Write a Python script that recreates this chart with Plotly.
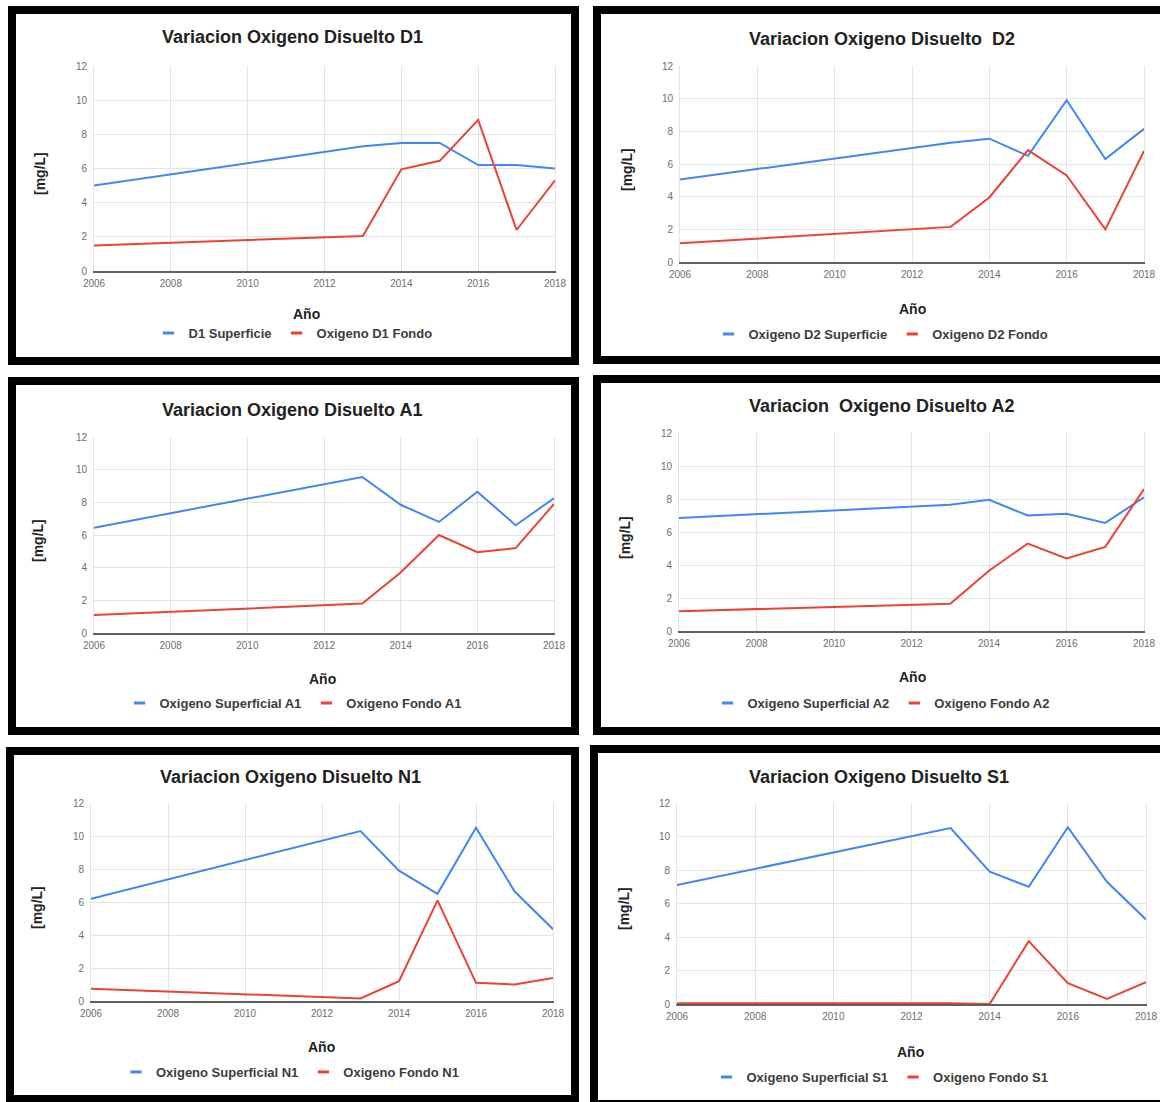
import plotly.graph_objects as go

# ---------------- data ----------------
years = [2006, 2013, 2014, 2015, 2016, 2017, 2018]
x_ticks = [2006, 2008, 2010, 2012, 2014, 2016, 2018]
y_ticks = [0, 2, 4, 6, 8, 10, 12]

d1_superficie = [5.0, 7.3, 7.5, 7.5, 6.2, 6.2, 6.0]
d1_fondo = [1.5, 2.05, 5.95, 6.45, 8.85, 2.4, 5.3]

d2_superficie = [5.05, 7.3, 7.55, 6.5, 9.9, 6.3, 8.15]
d2_fondo = [1.15, 2.15, 3.95, 6.85, 5.3, 2.0, 6.8]

a1_superficie = [6.45, 9.55, 7.85, 6.8, 8.65, 6.6, 8.25]
a1_fondo = [1.1, 1.8, 3.7, 6.0, 4.95, 5.2, 7.9]

a2_superficie = [6.85, 7.65, 7.95, 7.0, 7.1, 6.55, 8.1]
a2_fondo = [1.2, 1.65, 3.65, 5.3, 4.4, 5.1, 8.6]

n1_superficie = [6.2, 10.3, 7.9, 6.5, 10.5, 6.65, 4.35]
n1_fondo = [0.75, 0.15, 1.2, 6.1, 1.1, 1.0, 1.4]

s1_superficie = [7.1, 10.5, 7.9, 7.0, 10.55, 7.3, 5.05]
s1_fondo = [0.05, 0.05, 0.0, 3.75, 1.25, 0.3, 1.3]

titles = [
    "Variacion Oxigeno Disuelto D1",
    "Variacion Oxigeno Disuelto\u00a0 D2",
    "Variacion Oxigeno Disuelto A1",
    "Variacion\u00a0 Oxigeno Disuelto A2",
    "Variacion Oxigeno Disuelto N1",
    "Variacion Oxigeno Disuelto S1",
]
sup_names = ["D1 Superficie", "Oxigeno D2 Superficie", "Oxigeno Superficial A1",
             "Oxigeno Superficial A2", "Oxigeno Superficial N1", "Oxigeno Superficial S1"]
fondo_names = ["Oxigeno D1 Fondo", "Oxigeno D2 Fondo", "Oxigeno Fondo A1",
               "Oxigeno Fondo A2", "Oxigeno Fondo N1", "Oxigeno Fondo S1"]
sup_series = [d1_superficie, d2_superficie, a1_superficie, a2_superficie, n1_superficie, s1_superficie]
fondo_series = [d1_fondo, d2_fondo, a1_fondo, a2_fondo, n1_fondo, s1_fondo]
x_title = "Año"
y_title = "[mg/L]"

# ---------------- layout geometry (pixels) ----------------
W, H = 1160, 1102
BLUE = "#4285F4"
RED = "#EA4335"
FONT = "Liberation Sans, Arial, sans-serif"

geo = [
    dict(plot=(94, 555, 66, 271), title=(292, 37), xt=(306, 314), yt=(40, 174), leg=(293, 333), box=(12, 575, 10, 361)),
    dict(plot=(680, 1144, 66, 262), title=(882, 39), xt=(912, 309), yt=(627, 170), leg=(881, 334), box=(597, 1172, 10, 360)),
    dict(plot=(94, 554, 437, 633), title=(292, 410), xt=(323, 679), yt=(38, 541), leg=(293, 703), box=(12, 575, 381, 731)),
    dict(plot=(679, 1144, 433, 631), title=(881, 406), xt=(912, 677), yt=(625, 538), leg=(881, 703), box=(597, 1172, 379, 731)),
    dict(plot=(91, 553, 803, 1001), title=(291, 777), xt=(321, 1047), yt=(37, 908), leg=(290, 1072), box=(10, 575, 751, 1099)),
    dict(plot=(677, 1146, 803, 1004), title=(879, 777), xt=(910, 1052), yt=(624, 909), leg=(880, 1077), box=(594, 1172, 749, 1104)),
]

def fx(v):
    return v / W

def fy(v):
    return 1 - v / H

fig = go.Figure()
layout = dict(
    template="none",
    width=W, height=H, margin=dict(l=0, r=0, t=0, b=0, pad=0, autoexpand=False),
    paper_bgcolor="white", plot_bgcolor="white",
    font=dict(family=FONT, color="#222222"),
    showlegend=True,
)
annotations = []
shapes = []

for i in range(6):
    k = "" if i == 0 else str(i + 1)
    g = geo[i]
    l, r, t, b = g["plot"]
    xa, ya = "x" + k, "y" + k
    leg = "legend" + k

    fig.add_trace(go.Scatter(x=years, y=sup_series[i], mode="lines", name=sup_names[i],
                             line=dict(color=BLUE, width=2), xaxis=xa, yaxis=ya, showlegend=False,
                             hoverinfo="x+y+name"))
    fig.add_trace(go.Scatter(x=years, y=fondo_series[i], mode="lines", name=fondo_names[i],
                             line=dict(color=RED, width=2), xaxis=xa, yaxis=ya, showlegend=False,
                             hoverinfo="x+y+name"))
    for nm, col in ((sup_names[i], BLUE), (fondo_names[i], RED)):
        fig.add_trace(go.Scatter(x=[None], y=[None], mode="markers", name=nm,
                                 marker=dict(symbol="line-ew", size=8, line=dict(width=3, color=col)),
                                 xaxis=xa, yaxis=ya, legend=leg, showlegend=True))

    layout["xaxis" + k] = dict(
        domain=[fx(l), fx(r)], anchor=ya, range=[2006, 2018], automargin=False,
        tickvals=x_ticks, ticktext=[str(v) for v in x_ticks],
        showgrid=True, gridcolor="#e3e3e3", gridwidth=1,
        showline=True, linecolor="#5f5f5f", linewidth=1.5, mirror=False,
        zeroline=False, ticks="", ticklabelstandoff=2,
        tickfont=dict(size=10, color="#6e6e6e", family=FONT),
        fixedrange=True,
    )
    layout["yaxis" + k] = dict(
        domain=[fy(b), fy(t)], anchor=xa, range=[0, 12], automargin=False,
        tickvals=y_ticks, ticktext=[str(v) for v in y_ticks],
        showgrid=True, gridcolor="#e3e3e3", gridwidth=1,
        showline=True, linecolor="#e3e3e3", mirror=True,
        zeroline=False, ticks="", ticklabelstandoff=4,
        tickfont=dict(size=10, color="#6e6e6e", family=FONT),
        fixedrange=True,
    )
    layout[leg] = dict(
        x=fx(g["leg"][0]), y=fy(g["leg"][1]), xref="container", yref="container",
        xanchor="center", yanchor="middle",
        orientation="h", bgcolor="rgba(0,0,0,0)", borderwidth=0,
        font=dict(size=13, color="#3c3c3c", family=FONT, weight="bold"),
        itemclick=False, itemdoubleclick=False,
    )
    annotations.append(dict(text="<b>" + titles[i] + "</b>", x=fx(g["title"][0]), y=fy(g["title"][1]),
                            xref="paper", yref="paper", xanchor="center", yanchor="middle",
                            showarrow=False, font=dict(size=18, color="#222222", family=FONT)))
    annotations.append(dict(text="<b>" + x_title + "</b>", x=fx(g["xt"][0]), y=fy(g["xt"][1]),
                            xref="paper", yref="paper", xanchor="center", yanchor="middle",
                            showarrow=False, font=dict(size=14, color="#222222", family=FONT)))
    annotations.append(dict(text="<b>" + y_title + "</b>", x=fx(g["yt"][0]), y=fy(g["yt"][1]),
                            xref="paper", yref="paper", xanchor="center", yanchor="middle",
                            textangle=-90, showarrow=False, font=dict(size=14, color="#222222", family=FONT)))
    bx0, bx1, by0, by1 = g["box"]
    shapes.append(dict(type="rect", xref="paper", yref="paper",
                       x0=fx(bx0), x1=fx(bx1), y0=fy(by1), y1=fy(by0),
                       line=dict(color="black", width=8), fillcolor="rgba(0,0,0,0)", layer="above"))

layout["annotations"] = annotations
layout["shapes"] = shapes
fig.update_layout(**layout)

fig.write_html(
    "out.html",
    config={"displayModeBar": False},
    post_script="document.documentElement.style.margin='0';document.body.style.margin='0';"
                "document.body.style.overflow='hidden';",
)
